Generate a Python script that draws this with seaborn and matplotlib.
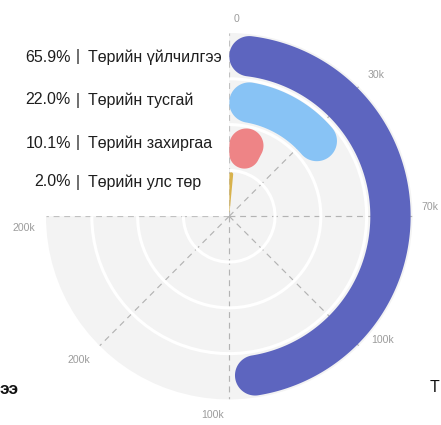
import numpy as np
import matplotlib
matplotlib.use("Agg")
import matplotlib.pyplot as plt
import seaborn as sns

# ---------------- data ----------------
categories = ["Төрийн улс төр", "Төрийн захиргаа", "Төрийн тусгай", "Төрийн үйлчилгээ"]  # inner -> outer
shares = [2.0, 10.1, 22.0, 65.9]                       # percent
bar_colors = ["#d8b24c", "#ee8486", "#88c3f5", "#5d65bf"]
angle_ticks_deg = [0, 45, 90, 135, 180, 225, 270]
angle_tick_labels = ["0", "30k", "70k", "100k", "100k", "200k", "200k"]
full_sweep_deg = 270                                   # 100 % of the total = 3/4 circle
edge_fragments = ["ээ", "Т"]                           # partly visible texts at the bottom edges

# ---------------- style ----------------
sns.set_theme(style="white")
plt.rcParams["font.family"] = ["Liberation Sans", "DejaVu Sans"]
palette = sns.color_palette(bar_colors)

W, H = 441, 425
fig = plt.figure(figsize=(W / 100, H / 100), dpi=100)
cx, cy, R = 231, 218, 185
ax = fig.add_axes([(cx - R) / W, (H - cy - R) / H, 2 * R / W, 2 * R / H], projection="polar")
ax.set_theta_zero_location("N")
ax.set_theta_direction(-1)
ax.set_thetamin(0)
ax.set_thetamax(full_sweep_deg)
ax.set_rlim(0, len(categories))
ax.set_facecolor("#f3f3f3")
for sp in ax.spines.values():
    sp.set_linewidth(0)
    sp.set_edgecolor("none")
    sp.set_visible(False)
ax.set_axisbelow(True)

ax.set_rgrids(np.arange(1, len(categories)), labels=[""] * (len(categories) - 1))
ax.yaxis.grid(True, color="white", linewidth=2.2, linestyle="-")
ax.set_thetagrids(angle_ticks_deg, labels=[""] * len(angle_ticks_deg))
ax.xaxis.grid(True, color="#b3b3b3", linewidth=0.85, linestyle=(0, (5, 4)))
ax.tick_params(axis="x", which="major", length=5, width=0.85, color="#b3b3b3", direction="out")
ax.tick_params(axis="y", length=0)


def rounded_sector(t0, t1, r0, r1, n=60):
    """Outline (theta, r) of a sector with rounded corners (round caps inside the span)."""
    s = np.sin((t1 - t0) / 2)
    half = (r1 - r0) / 2
    co = min(half, s * r1 / (1 + s))
    ci = min(half, s * r0 / (1 - s)) if s < 1 else half
    xs, ys = [], []

    def arc(c, rad, a0, a1, m=n):
        ang = np.linspace(a0, a1, m)
        xs.extend(c[0] + rad * np.cos(ang))
        ys.extend(c[1] + rad * np.sin(ang))

    ro = r1 - co
    a = t0 + np.arcsin(co / ro)
    b = t1 - np.arcsin(co / ro)
    arc((ro * np.cos(a), ro * np.sin(a)), co, t0 - np.pi / 2, a)
    arc((0, 0), r1, a, b, 300)
    arc((ro * np.cos(b), ro * np.sin(b)), co, b, t1 + np.pi / 2)
    ri = r0 + ci
    ai = t0 + np.arcsin(ci / ri)
    bi = t1 - np.arcsin(ci / ri)
    arc((ri * np.cos(bi), ri * np.sin(bi)), ci, t1 + np.pi / 2, bi + np.pi)
    arc((0, 0), r0, bi, ai, 150)
    arc((ri * np.cos(ai), ri * np.sin(ai)), ci, ai + np.pi, t0 + 1.5 * np.pi)
    xs, ys = np.array(xs), np.array(ys)
    th = np.unwrap(np.arctan2(ys, xs))
    return th, np.hypot(xs, ys)


for i, (val, col) in enumerate(zip(shares, palette)):
    t1 = np.deg2rad(val / 100 * full_sweep_deg)
    th, rr = rounded_sector(0.0, t1, i + 0.08, i + 0.96)
    ax.fill(th, rr, color=col, linewidth=0, zorder=3)

# angle-axis labels (placed around the outside)
label_pos = [(2.2, 4.30, "center"), (46.0, 4.45, "center"), (87.3, 4.20, "left"),
             (129.0, 4.31, "center"), (184.8, 4.36, "center"), (226.3, 4.53, "center"),
             (266.7, 4.49, "center")]
for (th, rr, ha), lab in zip(label_pos, angle_tick_labels):
    ax.text(np.deg2rad(th), rr, lab, ha=ha, va="center", fontsize=7.6,
            color="#9c9c9c", clip_on=False)

# category labels on the left
label_y = [182, 143, 100, 57]   # inner -> outer
for val, name, y in zip(shares, categories, label_y):
    fy = 1 - y / H
    fig.text(71 / W, fy, f"{val:.1f}%", ha="right", va="center", fontsize=11.5, color="#1e1e1e")
    fig.text(77.5 / W, fy, "|", ha="center", va="center", fontsize=11.5, color="#1e1e1e")
    fig.text(88.5 / W, fy, name, ha="left", va="center", fontsize=11.5, color="#1e1e1e")

# partly visible texts at the bottom edges
fig.text(0 / W, 1 - 389 / H, edge_fragments[0], ha="left", va="center", fontsize=12.5,
         color="#111111", fontweight="bold")
fig.text(439.5 / W, 1 - 388 / H, edge_fragments[1], ha="right", va="center", fontsize=11.5,
         color="#111111")

for name in ("start", "end", "polar", "inner"):
    ax.spines[name].set_linewidth(0)
    ax.spines[name].set_edgecolor("none")

fig.savefig("out.png", dpi=100)
